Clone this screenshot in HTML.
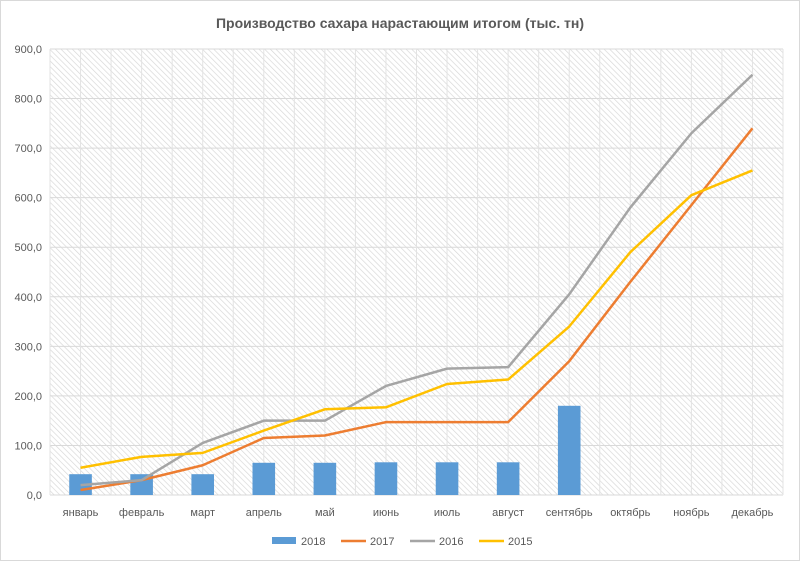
<!DOCTYPE html>
<html><head><meta charset="utf-8"><style>
body{margin:0;background:#fff;font-family:"Liberation Sans",sans-serif;}
svg text{font-family:"Liberation Sans",sans-serif;}
</style></head><body>
<svg id="chart" width="800" height="561" xmlns="http://www.w3.org/2000/svg">
<defs>
<pattern id="hatch" width="4" height="4" patternUnits="userSpaceOnUse" patternTransform="rotate(-45)">
<rect width="4" height="4" fill="#fff"/><line x1="0" y1="0" x2="0" y2="4" stroke="#d6d6d6" stroke-width="1.3"/>
</pattern>
</defs>
<rect x="0.5" y="0.5" width="799" height="560" fill="#fff" stroke="#d9d9d9"/>
<text x="400" y="28" text-anchor="middle" font-size="14" font-weight="bold" fill="#595959">Производство сахара нарастающим итогом (тыс. тн)</text>
<rect x="50" y="49" width="733" height="446" fill="url(#hatch)"/>
<g id="grid"></g><g id="bars"></g><g id="lines"></g><g id="labels"></g>
<g>
<rect x="272" y="537" width="24" height="7" fill="#5b9bd5"/>
<text x="301" y="545" font-size="11" fill="#595959">2018</text>
<line x1="341" y1="541" x2="366" y2="541" stroke="#ed7d31" stroke-width="2.5"/>
<text x="370" y="545" font-size="11" fill="#595959">2017</text>
<line x1="410" y1="541" x2="435" y2="541" stroke="#a5a5a5" stroke-width="2.5"/>
<text x="439" y="545" font-size="11" fill="#595959">2016</text>
<line x1="479" y1="541" x2="504" y2="541" stroke="#ffc000" stroke-width="2.5"/>
<text x="508" y="545" font-size="11" fill="#595959">2015</text>
</g>
</svg>
<script>
const categories=["январь","февраль","март","апрель","май","июнь","июль","август","сентябрь","октябрь","ноябрь","декабрь"];
const s2018=[42,42,42,65,65,66,66,66,180];
const s2017=[10,30,60,115,120,147,147,147,270,430,585,740];
const s2016=[20,30,105,150,150,220,255,258,405,580,730,848];
const s2015=[55,77,85,130,173,177,224,233,340,490,605,655];
const yTicks=[0,100,200,300,400,500,600,700,800,900];
const NS="http://www.w3.org/2000/svg";
const L=50,R=783,T=49,B=495,YMAX=900;
const bw=(R-L)/categories.length;
const x=i=>L+bw*(i+0.5);
const y=v=>B-(v/YMAX)*(B-T);
function mk(tag,attrs,parent){const e=document.createElementNS(NS,tag);for(const k in attrs)e.setAttribute(k,attrs[k]);document.getElementById(parent).appendChild(e);return e;}
yTicks.forEach(t=>{
const g=mk("line",{x1:L,x2:R,y1:y(t),y2:y(t),stroke:"#d9d9d9","stroke-width":1},"grid");


const tx=mk("text",{x:L-8,y:y(t)+4,"text-anchor":"end","font-size":11,fill:"#595959"},"labels");
tx.textContent=t.toFixed(1).replace(".",",");


});
for(let i=0;i<=categories.length*2;i++){
const gx=L+bw*i/2;
const g=mk("line",{x1:gx,x2:gx,y1:T,y2:B,stroke:"#e3e3e3","stroke-width":1},"grid");


}
categories.forEach((c,i)=>{
const tx=mk("text",{x:x(i),y:516,"text-anchor":"middle","font-size":11,fill:"#595959"},"labels");
tx.textContent=c;


});
s2018.forEach((v,i)=>{
const w=bw*0.37;
const r=mk("rect",{x:x(i)-w/2,y:y(v),width:w,height:B-y(v),fill:"#5b9bd5"},"bars");


});
[[s2017,"#ed7d31","2017"],[s2016,"#a5a5a5","2016"],[s2015,"#ffc000","2015"]].forEach(([d,c,n])=>{
const p=mk("polyline",{points:d.map((v,i)=>x(i)+","+y(v)).join(" "),fill:"none",stroke:c,"stroke-width":2.5,"stroke-linejoin":"round"},"lines");


});
</script>
</body></html>
